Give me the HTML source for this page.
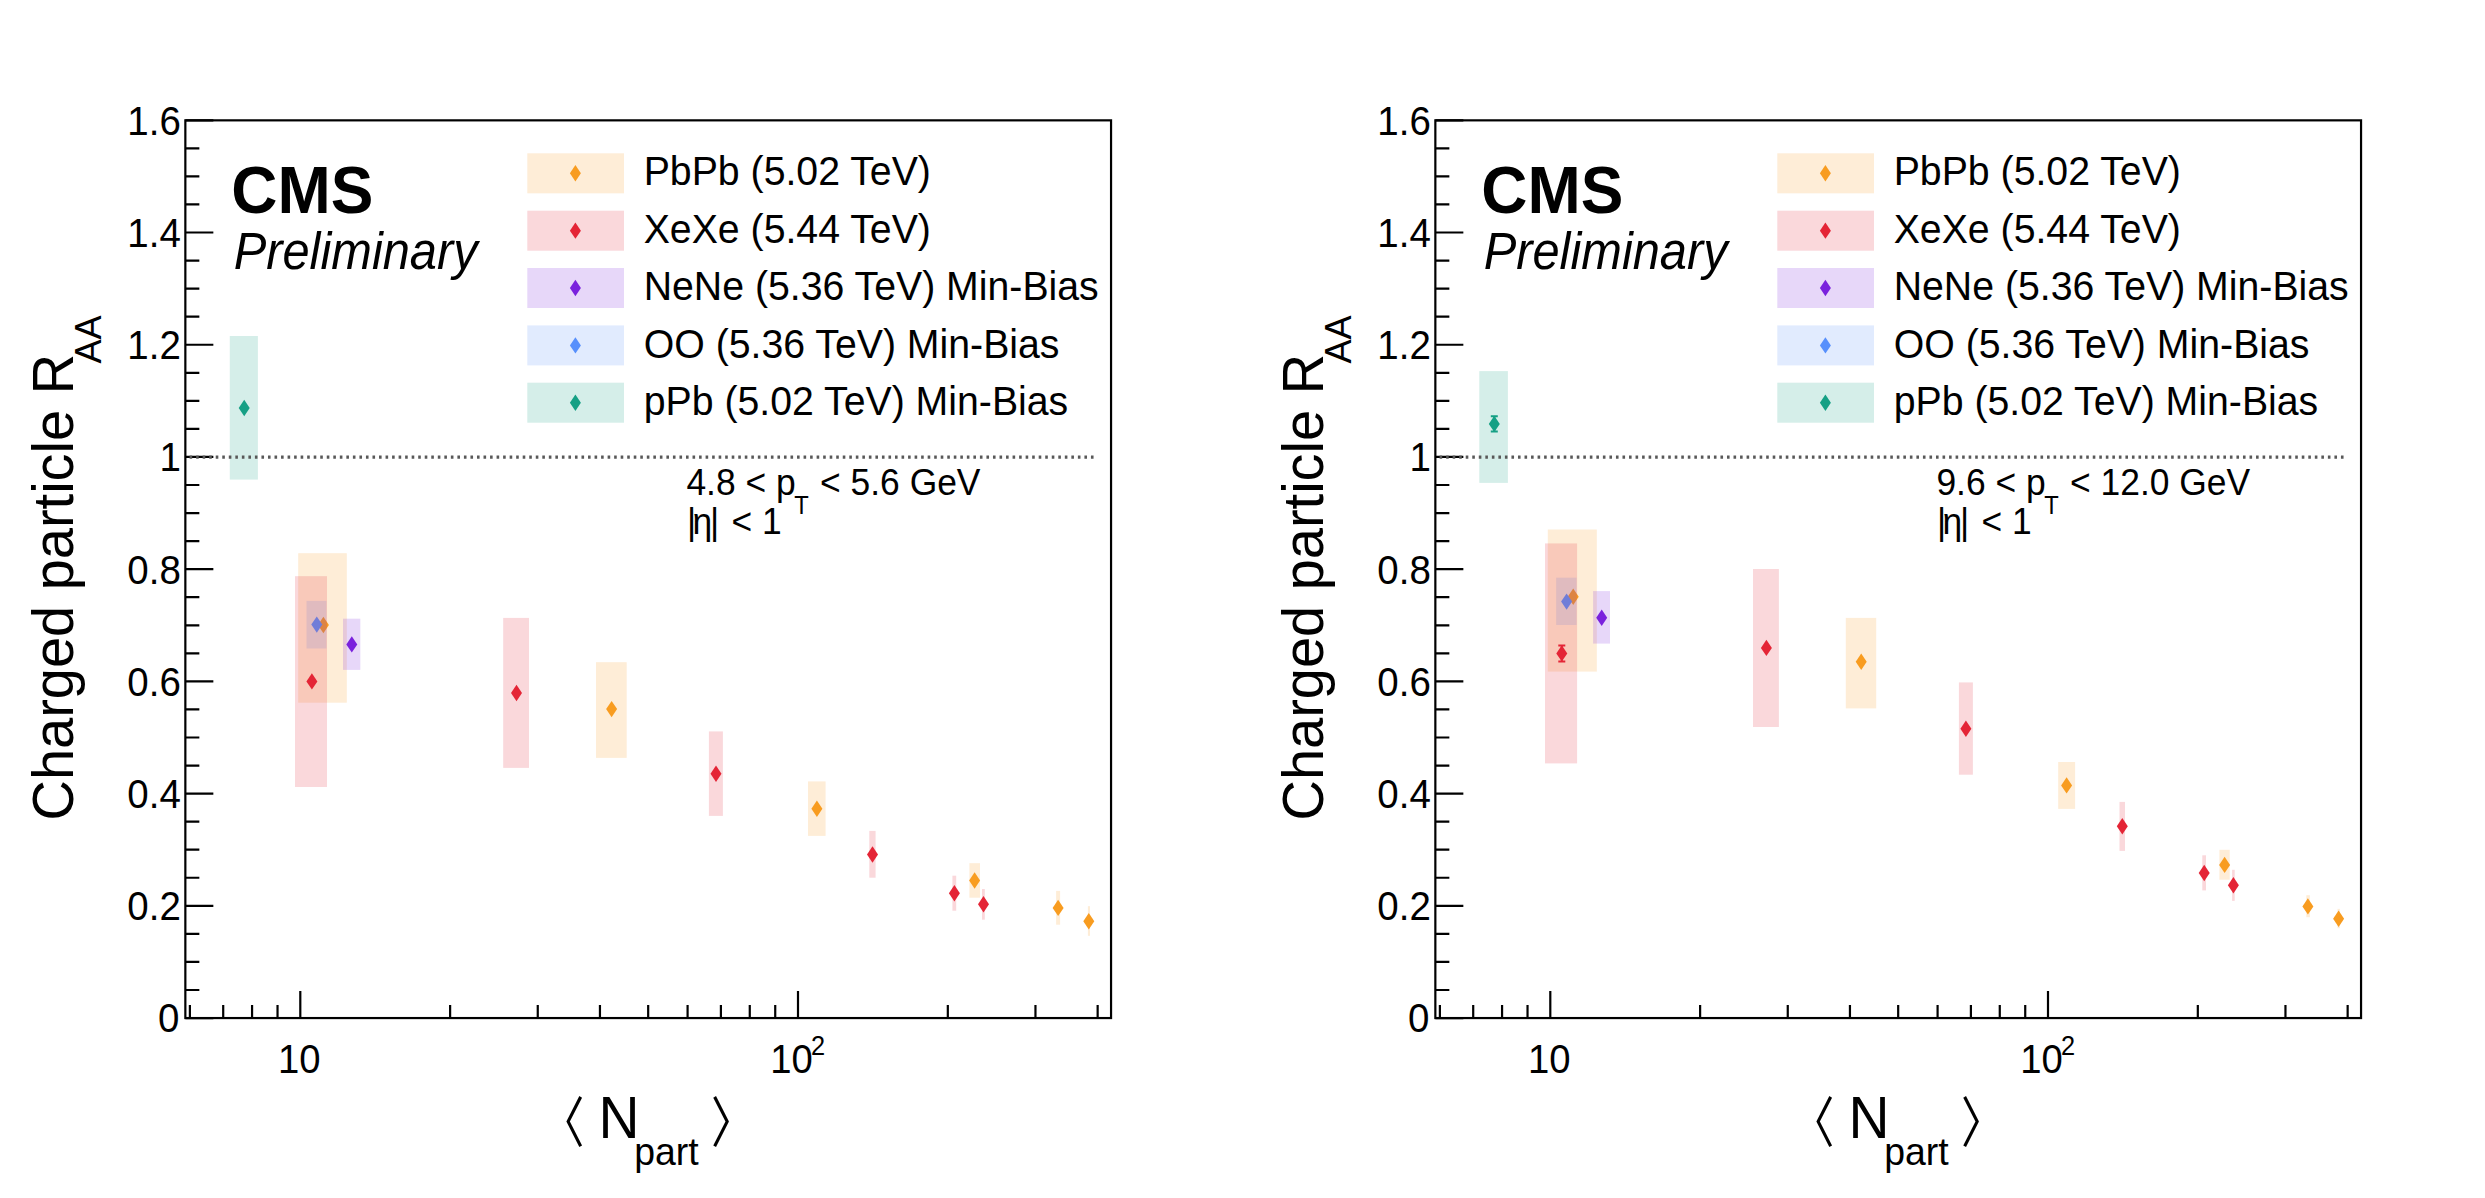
<!DOCTYPE html>
<html lang="en"><head><meta charset="utf-8"><title>Charged particle RAA vs Npart</title>
<style>
html,body{margin:0;padding:0;background:#fff;}
body{width:2485px;height:1198px;overflow:hidden;}
svg{display:block;}
svg text{font-family:"Liberation Sans", "DejaVu Sans", sans-serif;fill:#000;}
svg text.br{font-family:"Liberation Sans","Noto Sans CJK JP","Noto Sans CJK SC",sans-serif;}
</style></head><body>
<svg width="2485" height="1198" viewBox="0 0 2485 1198">
<rect width="2485" height="1198" fill="#fff"/>
<g>
<rect x="229.8" y="336.0" width="28.1" height="143.6" fill="#16a085" fill-opacity="0.18"/>
<polygon points="244.2,399.8 249.7,408.0 244.2,416.2 238.7,408.0" fill="#16a085"/>
<rect x="298.2" y="553.2" width="48.6" height="149.5" fill="#f89c20" fill-opacity="0.18"/>
<polygon points="323.4,616.8 328.9,625.0 323.4,633.2 317.9,625.0" fill="#f89c20"/>
<rect x="596.0" y="662.2" width="30.7" height="95.7" fill="#f89c20" fill-opacity="0.18"/>
<polygon points="611.6,700.9 617.1,709.1 611.6,717.3 606.1,709.1" fill="#f89c20"/>
<rect x="808.0" y="781.4" width="17.6" height="54.5" fill="#f89c20" fill-opacity="0.18"/>
<polygon points="816.9,800.5 822.4,808.7 816.9,816.9 811.4,808.7" fill="#f89c20"/>
<rect x="969.4" y="863.2" width="10.6" height="34.5" fill="#f89c20" fill-opacity="0.18"/>
<polygon points="974.6,872.3 980.1,880.5 974.6,888.7 969.1,880.5" fill="#f89c20"/>
<rect x="1056.1" y="890.9" width="4.0" height="33.8" fill="#f89c20" fill-opacity="0.18"/>
<polygon points="1058.1,899.7 1063.6,907.9 1058.1,916.1 1052.6,907.9" fill="#f89c20"/>
<rect x="1087.9" y="906.2" width="2.1" height="29.6" fill="#f89c20" fill-opacity="0.18"/>
<polygon points="1088.8,913.0 1094.3,921.2 1088.8,929.4 1083.3,921.2" fill="#f89c20"/>
<rect x="306.5" y="600.9" width="20.0" height="47.6" fill="#5790fc" fill-opacity="0.18"/>
<polygon points="316.8,616.4 322.3,624.6 316.8,632.8 311.3,624.6" fill="#5790fc"/>
<rect x="295.0" y="576.2" width="32.0" height="210.8" fill="#e42536" fill-opacity="0.18"/>
<polygon points="311.9,673.2 317.4,681.4 311.9,689.6 306.4,681.4" fill="#e42536"/>
<rect x="503.2" y="617.9" width="25.8" height="150.0" fill="#e42536" fill-opacity="0.18"/>
<polygon points="516.5,684.8 522.0,693.0 516.5,701.2 511.0,693.0" fill="#e42536"/>
<rect x="708.9" y="731.4" width="14.0" height="84.5" fill="#e42536" fill-opacity="0.18"/>
<polygon points="716.0,765.6 721.5,773.8 716.0,782.0 710.5,773.8" fill="#e42536"/>
<rect x="869.3" y="830.9" width="6.3" height="46.8" fill="#e42536" fill-opacity="0.18"/>
<polygon points="872.5,846.3 878.0,854.5 872.5,862.7 867.0,854.5" fill="#e42536"/>
<rect x="952.4" y="875.7" width="3.8" height="35.0" fill="#e42536" fill-opacity="0.18"/>
<polygon points="954.4,885.0 959.9,893.2 954.4,901.4 948.9,893.2" fill="#e42536"/>
<rect x="982.0" y="889.0" width="2.8" height="30.7" fill="#e42536" fill-opacity="0.18"/>
<polygon points="983.5,896.0 989.0,904.2 983.5,912.4 978.0,904.2" fill="#e42536"/>
<rect x="343.0" y="618.7" width="17.3" height="51.2" fill="#7a21dd" fill-opacity="0.18"/>
<polygon points="351.8,636.2 357.3,644.4 351.8,652.6 346.3,644.4" fill="#7a21dd"/>
<rect x="185.35" y="120.35" width="925.7" height="897.7" fill="none" stroke="#000" stroke-width="2.2"/>
<path d="M185.35 1018.05h28M185.35 990.00h14M185.35 961.94h14M185.35 933.88h14M185.35 905.83h28M185.35 877.77h14M185.35 849.72h14M185.35 821.66h14M185.35 793.61h28M185.35 765.55h14M185.35 737.50h14M185.35 709.44h14M185.35 681.39h28M185.35 653.33h14M185.35 625.28h14M185.35 597.22h14M185.35 569.17h28M185.35 541.11h14M185.35 513.06h14M185.35 485.00h14M185.35 456.95h28M185.35 428.89h14M185.35 400.84h14M185.35 372.78h14M185.35 344.73h28M185.35 316.67h14M185.35 288.62h14M185.35 260.56h14M185.35 232.51h28M185.35 204.45h14M185.35 176.40h14M185.35 148.34h14M185.35 120.29h28M189.89 1018.05v-13M223.21 1018.05v-13M252.07 1018.05v-13M277.53 1018.05v-13M450.12 1018.05v-13M537.76 1018.05v-13M599.95 1018.05v-13M648.18 1018.05v-13M687.59 1018.05v-13M720.91 1018.05v-13M749.77 1018.05v-13M775.23 1018.05v-13M947.82 1018.05v-13M1035.46 1018.05v-13M1097.65 1018.05v-13M300.30 1018.05v-27M798.00 1018.05v-27" stroke="#000" stroke-width="2.2" fill="none"/>
<line x1="189.6" y1="457.15" x2="1093.6" y2="457.15" stroke="#585858" stroke-width="3.4" stroke-dasharray="2.6 3.9315"/>
<text transform="translate(179.4,1032.3) scale(0.927,1)" font-size="41.5" text-anchor="end">0</text>
<text transform="translate(180.8,920.1) scale(0.927,1)" font-size="41.5" text-anchor="end">0.2</text>
<text transform="translate(180.8,807.9) scale(0.927,1)" font-size="41.5" text-anchor="end">0.4</text>
<text transform="translate(180.8,695.7) scale(0.927,1)" font-size="41.5" text-anchor="end">0.6</text>
<text transform="translate(180.8,583.5) scale(0.927,1)" font-size="41.5" text-anchor="end">0.8</text>
<text transform="translate(180.8,471.2) scale(0.927,1)" font-size="41.5" text-anchor="end">1</text>
<text transform="translate(180.8,359.0) scale(0.927,1)" font-size="41.5" text-anchor="end">1.2</text>
<text transform="translate(180.8,246.8) scale(0.927,1)" font-size="41.5" text-anchor="end">1.4</text>
<text transform="translate(180.8,134.6) scale(0.927,1)" font-size="41.5" text-anchor="end">1.6</text>
<text transform="translate(299.3,1072.6) scale(0.922,1)" font-size="41.5" text-anchor="middle">10</text>
<text transform="translate(770.2,1072.6) scale(0.922,1)" font-size="41.5">10<tspan font-size="27.5" dy="-17.2" dx="-1.9">2</tspan></text>
<text transform="translate(598.5,1137.8) scale(0.97,1)" font-size="58.6">N<tspan font-size="38.6" dy="26.8" dx="-5.5">part</tspan></text>
<text transform="translate(540.8,1142.0) scale(0.813,1.02)" font-size="53.6" class="br">〈</text>
<text transform="translate(711.0,1142.0) scale(0.813,1.02)" font-size="53.6" class="br">〉</text>
<text transform="translate(73.2,820.5) rotate(-90) scale(0.965,1)" font-size="58">Charged particle R<tspan font-size="37.6" dy="28.2" dx="-10">AA</tspan></text>
<text transform="translate(231.3,213.0) scale(0.953,1)" font-size="67.1" font-weight="bold">CMS</text>
<text transform="translate(233.7,269.0) scale(0.951,1)" font-size="51.3" font-style="italic">Preliminary</text>
<rect x="527.3" y="153.3" width="96.7" height="40" fill="#f89c20" fill-opacity="0.18"/>
<polygon points="575.4,165.1 580.9,173.3 575.4,181.5 569.9,173.3" fill="#f89c20"/>
<text transform="translate(643.7,185.2) scale(0.955,1)" font-size="41.1">PbPb (5.02 TeV)</text>
<rect x="527.3" y="210.7" width="96.7" height="40" fill="#e42536" fill-opacity="0.18"/>
<polygon points="575.4,222.5 580.9,230.7 575.4,238.8 569.9,230.7" fill="#e42536"/>
<text transform="translate(643.7,242.7) scale(0.955,1)" font-size="41.1">XeXe (5.44 TeV)</text>
<rect x="527.3" y="268.0" width="96.7" height="40" fill="#7a21dd" fill-opacity="0.18"/>
<polygon points="575.4,279.8 580.9,288.0 575.4,296.2 569.9,288.0" fill="#7a21dd"/>
<text transform="translate(643.7,300.2) scale(0.955,1)" font-size="41.1">NeNe (5.36 TeV) Min-Bias</text>
<rect x="527.3" y="325.4" width="96.7" height="40" fill="#5790fc" fill-opacity="0.18"/>
<polygon points="575.4,337.2 580.9,345.4 575.4,353.6 569.9,345.4" fill="#5790fc"/>
<text transform="translate(643.7,357.7) scale(0.955,1)" font-size="41.1">OO (5.36 TeV) Min-Bias</text>
<rect x="527.3" y="382.7" width="96.7" height="40" fill="#16a085" fill-opacity="0.18"/>
<polygon points="575.4,394.5 580.9,402.7 575.4,410.9 569.9,402.7" fill="#16a085"/>
<text transform="translate(643.7,415.2) scale(0.955,1)" font-size="41.1">pPb (5.02 TeV) Min-Bias</text>
<text transform="translate(686.4,494.9) scale(0.95,1)" font-size="37.3">4.8 &lt; p<tspan font-size="25" dy="18.8" dx="-1.5">T</tspan><tspan dy="-18.8" dx="1.5"> &lt; 5.6 GeV</tspan></text>
<text transform="translate(687.0,533.9) scale(0.95,1)" font-size="37.3">|<tspan dx="-4">η</tspan><tspan dx="-2.3">|</tspan></text>
<text transform="translate(731.6,533.9) scale(0.95,1)" font-size="37.3">&lt; 1</text>
</g>
<g transform="translate(1250,0)">
<rect x="229.3" y="371.1" width="28.6" height="111.8" fill="#16a085" fill-opacity="0.18"/>
<path d="M244.3 415.3V432.5M240.8 416.3h7M240.8 431.5h7" stroke="#16a085" stroke-width="2" fill="none"/>
<polygon points="244.3,415.7 249.8,423.9 244.3,432.1 238.8,423.9" fill="#16a085"/>
<rect x="297.8" y="529.5" width="49.0" height="142.1" fill="#f89c20" fill-opacity="0.18"/>
<polygon points="323.2,588.6 328.7,596.8 323.2,605.0 317.7,596.8" fill="#f89c20"/>
<rect x="595.8" y="617.9" width="30.4" height="90.5" fill="#f89c20" fill-opacity="0.18"/>
<polygon points="611.2,653.6 616.7,661.8 611.2,670.0 605.7,661.8" fill="#f89c20"/>
<rect x="808.2" y="762.0" width="16.9" height="46.9" fill="#f89c20" fill-opacity="0.18"/>
<polygon points="816.6,777.2 822.1,785.4 816.6,793.6 811.1,785.4" fill="#f89c20"/>
<rect x="969.4" y="849.8" width="10.3" height="29.9" fill="#f89c20" fill-opacity="0.18"/>
<polygon points="974.6,856.7 980.1,864.9 974.6,873.1 969.1,864.9" fill="#f89c20"/>
<rect x="1056.3" y="895.2" width="3.6" height="22.0" fill="#f89c20" fill-opacity="0.18"/>
<polygon points="1057.9,898.2 1063.4,906.4 1057.9,914.6 1052.4,906.4" fill="#f89c20"/>
<rect x="1087.5" y="908.9" width="2.4" height="19.3" fill="#f89c20" fill-opacity="0.18"/>
<polygon points="1088.6,910.5 1094.1,918.7 1088.6,926.9 1083.1,918.7" fill="#f89c20"/>
<rect x="306.2" y="577.7" width="20.4" height="47.3" fill="#5790fc" fill-opacity="0.18"/>
<polygon points="316.6,593.4 322.1,601.6 316.6,609.8 311.1,601.6" fill="#5790fc"/>
<rect x="295.0" y="543.4" width="32.1" height="220.0" fill="#e42536" fill-opacity="0.18"/>
<path d="M311.8 644.4V662.4M308.3 645.4h7M308.3 661.4h7" stroke="#e42536" stroke-width="2" fill="none"/>
<polygon points="311.8,645.2 317.3,653.4 311.8,661.6 306.3,653.4" fill="#e42536"/>
<rect x="503.0" y="569.0" width="25.9" height="158.0" fill="#e42536" fill-opacity="0.18"/>
<polygon points="516.4,639.7 521.9,647.9 516.4,656.1 510.9,647.9" fill="#e42536"/>
<rect x="708.9" y="682.4" width="14.0" height="92.3" fill="#e42536" fill-opacity="0.18"/>
<polygon points="715.9,720.5 721.4,728.7 715.9,736.9 710.4,728.7" fill="#e42536"/>
<rect x="869.5" y="801.9" width="5.5" height="49.0" fill="#e42536" fill-opacity="0.18"/>
<polygon points="872.3,818.1 877.8,826.3 872.3,834.5 866.8,826.3" fill="#e42536"/>
<rect x="952.3" y="855.3" width="3.7" height="35.1" fill="#e42536" fill-opacity="0.18"/>
<polygon points="954.2,864.8 959.7,873.0 954.2,881.2 948.7,873.0" fill="#e42536"/>
<rect x="982.1" y="869.8" width="2.6" height="31.1" fill="#e42536" fill-opacity="0.18"/>
<polygon points="983.4,877.1 988.9,885.3 983.4,893.5 977.9,885.3" fill="#e42536"/>
<rect x="343.1" y="591.1" width="16.9" height="52.5" fill="#7a21dd" fill-opacity="0.18"/>
<polygon points="351.7,609.6 357.2,617.8 351.7,626.0 346.2,617.8" fill="#7a21dd"/>
<rect x="185.35" y="120.35" width="925.7" height="897.7" fill="none" stroke="#000" stroke-width="2.2"/>
<path d="M185.35 1018.05h28M185.35 990.00h14M185.35 961.94h14M185.35 933.88h14M185.35 905.83h28M185.35 877.77h14M185.35 849.72h14M185.35 821.66h14M185.35 793.61h28M185.35 765.55h14M185.35 737.50h14M185.35 709.44h14M185.35 681.39h28M185.35 653.33h14M185.35 625.28h14M185.35 597.22h14M185.35 569.17h28M185.35 541.11h14M185.35 513.06h14M185.35 485.00h14M185.35 456.95h28M185.35 428.89h14M185.35 400.84h14M185.35 372.78h14M185.35 344.73h28M185.35 316.67h14M185.35 288.62h14M185.35 260.56h14M185.35 232.51h28M185.35 204.45h14M185.35 176.40h14M185.35 148.34h14M185.35 120.29h28M189.89 1018.05v-13M223.21 1018.05v-13M252.07 1018.05v-13M277.53 1018.05v-13M450.12 1018.05v-13M537.76 1018.05v-13M599.95 1018.05v-13M648.18 1018.05v-13M687.59 1018.05v-13M720.91 1018.05v-13M749.77 1018.05v-13M775.23 1018.05v-13M947.82 1018.05v-13M1035.46 1018.05v-13M1097.65 1018.05v-13M300.30 1018.05v-27M798.00 1018.05v-27" stroke="#000" stroke-width="2.2" fill="none"/>
<line x1="189.6" y1="457.15" x2="1093.6" y2="457.15" stroke="#585858" stroke-width="3.4" stroke-dasharray="2.6 3.9315"/>
<text transform="translate(179.4,1032.3) scale(0.927,1)" font-size="41.5" text-anchor="end">0</text>
<text transform="translate(180.8,920.1) scale(0.927,1)" font-size="41.5" text-anchor="end">0.2</text>
<text transform="translate(180.8,807.9) scale(0.927,1)" font-size="41.5" text-anchor="end">0.4</text>
<text transform="translate(180.8,695.7) scale(0.927,1)" font-size="41.5" text-anchor="end">0.6</text>
<text transform="translate(180.8,583.5) scale(0.927,1)" font-size="41.5" text-anchor="end">0.8</text>
<text transform="translate(180.8,471.2) scale(0.927,1)" font-size="41.5" text-anchor="end">1</text>
<text transform="translate(180.8,359.0) scale(0.927,1)" font-size="41.5" text-anchor="end">1.2</text>
<text transform="translate(180.8,246.8) scale(0.927,1)" font-size="41.5" text-anchor="end">1.4</text>
<text transform="translate(180.8,134.6) scale(0.927,1)" font-size="41.5" text-anchor="end">1.6</text>
<text transform="translate(299.3,1072.6) scale(0.922,1)" font-size="41.5" text-anchor="middle">10</text>
<text transform="translate(770.2,1072.6) scale(0.922,1)" font-size="41.5">10<tspan font-size="27.5" dy="-17.2" dx="-1.9">2</tspan></text>
<text transform="translate(598.5,1137.8) scale(0.97,1)" font-size="58.6">N<tspan font-size="38.6" dy="26.8" dx="-5.5">part</tspan></text>
<text transform="translate(540.8,1142.0) scale(0.813,1.02)" font-size="53.6" class="br">〈</text>
<text transform="translate(711.0,1142.0) scale(0.813,1.02)" font-size="53.6" class="br">〉</text>
<text transform="translate(73.2,820.5) rotate(-90) scale(0.965,1)" font-size="58">Charged particle R<tspan font-size="37.6" dy="28.2" dx="-10">AA</tspan></text>
<text transform="translate(231.3,213.0) scale(0.953,1)" font-size="67.1" font-weight="bold">CMS</text>
<text transform="translate(233.7,269.0) scale(0.951,1)" font-size="51.3" font-style="italic">Preliminary</text>
<rect x="527.3" y="153.3" width="96.7" height="40" fill="#f89c20" fill-opacity="0.18"/>
<polygon points="575.4,165.1 580.9,173.3 575.4,181.5 569.9,173.3" fill="#f89c20"/>
<text transform="translate(643.7,185.2) scale(0.955,1)" font-size="41.1">PbPb (5.02 TeV)</text>
<rect x="527.3" y="210.7" width="96.7" height="40" fill="#e42536" fill-opacity="0.18"/>
<polygon points="575.4,222.5 580.9,230.7 575.4,238.8 569.9,230.7" fill="#e42536"/>
<text transform="translate(643.7,242.7) scale(0.955,1)" font-size="41.1">XeXe (5.44 TeV)</text>
<rect x="527.3" y="268.0" width="96.7" height="40" fill="#7a21dd" fill-opacity="0.18"/>
<polygon points="575.4,279.8 580.9,288.0 575.4,296.2 569.9,288.0" fill="#7a21dd"/>
<text transform="translate(643.7,300.2) scale(0.955,1)" font-size="41.1">NeNe (5.36 TeV) Min-Bias</text>
<rect x="527.3" y="325.4" width="96.7" height="40" fill="#5790fc" fill-opacity="0.18"/>
<polygon points="575.4,337.2 580.9,345.4 575.4,353.6 569.9,345.4" fill="#5790fc"/>
<text transform="translate(643.7,357.7) scale(0.955,1)" font-size="41.1">OO (5.36 TeV) Min-Bias</text>
<rect x="527.3" y="382.7" width="96.7" height="40" fill="#16a085" fill-opacity="0.18"/>
<polygon points="575.4,394.5 580.9,402.7 575.4,410.9 569.9,402.7" fill="#16a085"/>
<text transform="translate(643.7,415.2) scale(0.955,1)" font-size="41.1">pPb (5.02 TeV) Min-Bias</text>
<text transform="translate(686.4,494.9) scale(0.95,1)" font-size="37.3">9.6 &lt; p<tspan font-size="25" dy="18.8" dx="-1.5">T</tspan><tspan dy="-18.8" dx="1.5"> &lt; 12.0 GeV</tspan></text>
<text transform="translate(687.0,533.9) scale(0.95,1)" font-size="37.3">|<tspan dx="-4">η</tspan><tspan dx="-2.3">|</tspan></text>
<text transform="translate(731.6,533.9) scale(0.95,1)" font-size="37.3">&lt; 1</text>
</g>
</svg>
</body></html>
